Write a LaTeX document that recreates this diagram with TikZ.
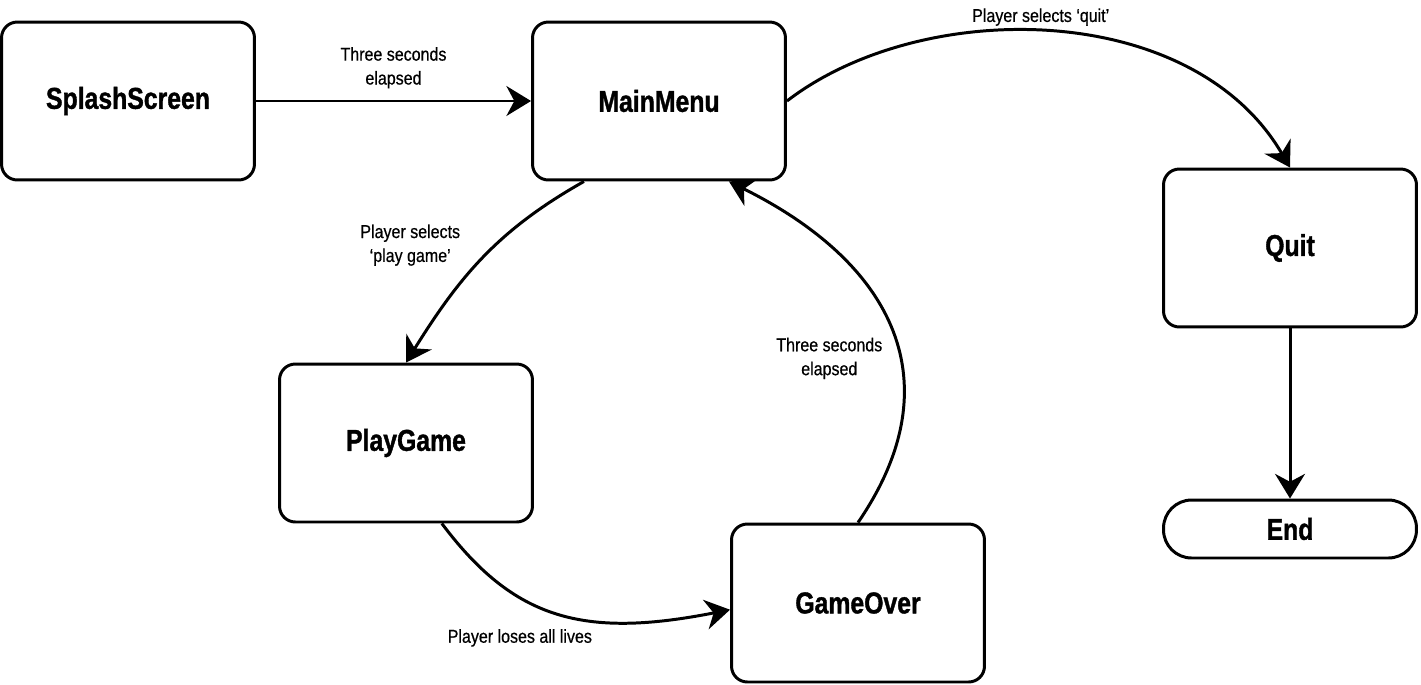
\documentclass[tikz,border=0pt]{standalone}
\usepackage{fontspec}
\setmainfont{Liberation Sans}[FakeStretch=0.86, FakeBold=0.6]
\newfontfamily\statefont{Liberation Sans}[FakeStretch=0.82, BoldFeatures={FakeBold=1.2}]
\usetikzlibrary{arrows.meta, positioning, calc}

\begin{document}
\begin{tikzpicture}[
  x=0.02cm, y=-0.02cm,
  line width=1.7pt,
  state/.style={draw, rounded corners=9pt, minimum width=5.06cm, minimum height=3.16cm,
    inner sep=0pt, font=\statefont\fontsize{17.2}{20}\selectfont\bfseries},
  endstate/.style={state, rounded corners=16pt, minimum height=1.16cm},
  trans/.style={-{Stealth[length=14pt, width=17pt, inset=4.5pt]}},
  lbl/.style={font=\fontsize{10.6}{13.6}\selectfont, align=center},
]
  \useasboundingbox (0,0) rectangle (1421,684);

  % States
  \node[state]    (splash) at (128, 101)  {SplashScreen};
  \node[state]    (menu)   at (659, 101)  {MainMenu};
  \node[state]    (quit)   at (1290, 248) {Quit};
  \node[endstate] (end)    at (1290, 529) {End};
  \node[state]    (play)   at (406, 443)  {PlayGame};
  \node[state]    (over)   at (858, 603)  {GameOver};

  % Splash -> menu
  \draw[trans] (splash) -- node[lbl, above=3pt] {Three seconds\\elapsed} (menu);
  % Menu -> quit (arc over the top)
  \draw[trans] (menu.east) .. controls +(135,-104) and +(-98,-168) ..
    node[lbl, pos=0.48, above=-1pt] {Player selects ‘quit’} (quit.north);
  % Quit -> end
  \draw[trans] (quit) -- (end);
  % Menu -> play
  \draw[trans] (menu.227) .. controls +(-87,49) and +(53,-85) ..
    node[lbl, pos=0.42, left=16pt] {Player selects\\‘play game’} (play.north);
  % Play -> game over
  \draw[trans] (play.294) .. controls +(72,96) and +(-147,29) ..
    node[lbl, pos=0.35, below=14pt] {Player loses all lives} (over.183);
  % Game over -> menu
  \draw[trans] (over.north) .. controls +(96,-140) and +(165,82) ..
    node[lbl, pos=0.42, left=6pt] {Three seconds\\elapsed} (menu.311);
\end{tikzpicture}
\end{document}
